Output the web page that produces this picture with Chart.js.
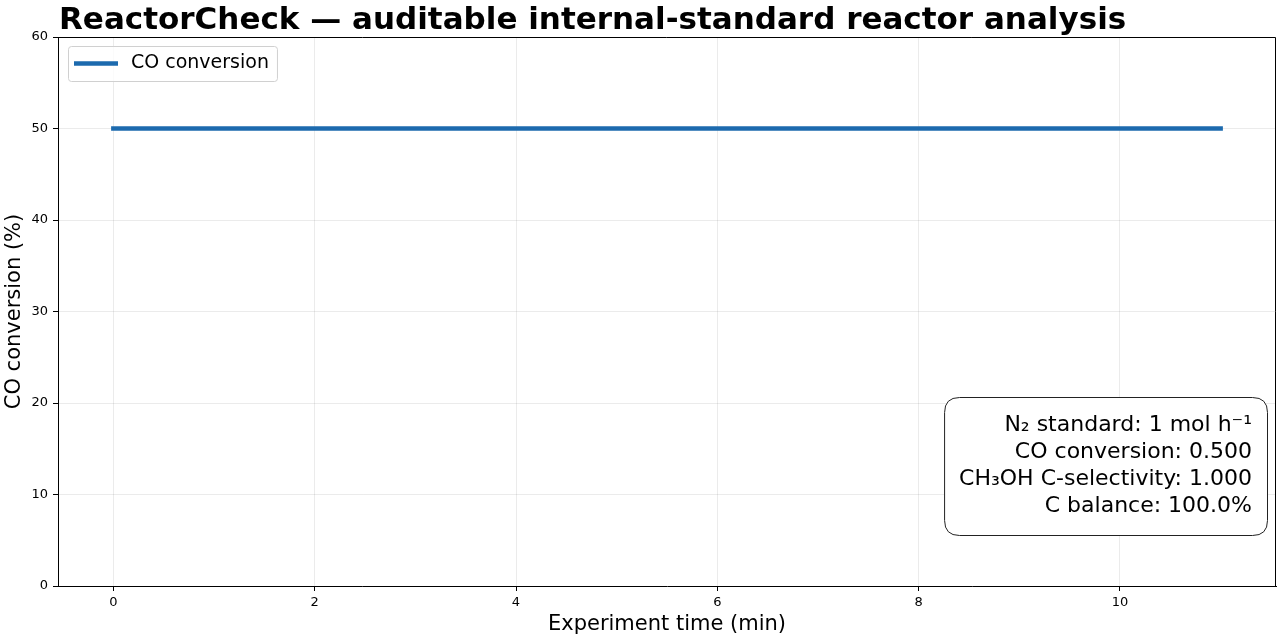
<!DOCTYPE html>
<html lang="en">
<head>
<meta charset="UTF-8">
<title>ReactorCheck</title>
<script src="https://cdn.jsdelivr.net/npm/chart.js"></script>
<style>
  body { margin: 0; background: #fff; }
  #wrap { width: 1280px; height: 640px; }
</style>
</head>
<body>
<div id="wrap"><canvas id="chart" width="1280" height="640"></canvas></div>
<script>
// data
const times = [0, 11];              // min
const conversion = [50, 50];        // %
const xTicks = [0, 2, 4, 6, 8, 10];
const yTicks = [0, 10, 20, 30, 40, 50, 60];
const seriesLabel = 'CO conversion';
const titleText = 'ReactorCheck \u2014 auditable internal-standard reactor analysis';
const noteLines = [
  'N\u2082 standard: 1 mol h\u207B\u00B9',
  'CO conversion: 0.500',
  'CH\u2083OH C-selectivity: 1.000',
  'C balance: 100.0%'
];

const FONT = "'DejaVu Sans', sans-serif";
const lineColor = '#1c6aae';

function roundRect(ctx, x, y, w, h, r) {
  ctx.beginPath();
  ctx.moveTo(x + r, y);
  ctx.lineTo(x + w - r, y);
  ctx.quadraticCurveTo(x + w, y, x + w, y + r);
  ctx.lineTo(x + w, y + h - r);
  ctx.quadraticCurveTo(x + w, y + h, x + w - r, y + h);
  ctx.lineTo(x + r, y + h);
  ctx.quadraticCurveTo(x, y + h, x, y + h - r);
  ctx.lineTo(x, y + r);
  ctx.quadraticCurveTo(x, y, x + r, y);
  ctx.closePath();
}

// title, frame, legend and note box
const extras = {
  id: 'extras',
  afterDraw(chart) {
    const ctx = chart.ctx;
    const a = chart.chartArea;
    ctx.save();

    // title
    ctx.fillStyle = '#000';
    ctx.font = 'bold 31px ' + FONT;
    ctx.textAlign = 'left';
    ctx.textBaseline = 'alphabetic';
    ctx.fillText(titleText, a.left + 1, 29);

    // top/right frame
    ctx.strokeStyle = '#000';
    ctx.lineWidth = 1;
    ctx.beginPath();
    ctx.moveTo(a.left, a.top + 0.5);
    ctx.lineTo(a.right - 0.5, a.top + 0.5);
    ctx.lineTo(a.right - 0.5, a.bottom);
    ctx.stroke();

    // legend
    const ds = chart.data.datasets[0];
    ctx.font = '19px ' + FONT;
    const lw = ctx.measureText(ds.label).width;
    const lx = a.left + 10, ly = a.top + 9;
    const lwBox = 63 + lw + 8, lh = 35;
    roundRect(ctx, lx + 0.5, ly + 0.5, lwBox, lh, 3);
    ctx.fillStyle = 'rgba(255,255,255,0.8)';
    ctx.fill();
    ctx.strokeStyle = '#d0d0d0';
    ctx.stroke();
    ctx.strokeStyle = ds.borderColor;
    ctx.lineWidth = 4.5;
    ctx.beginPath();
    ctx.moveTo(lx + 6, ly + 17.5);
    ctx.lineTo(lx + 50, ly + 17.5);
    ctx.stroke();
    ctx.fillStyle = '#000';
    ctx.textBaseline = 'middle';
    ctx.fillText(ds.label, lx + 63, ly + 17.5);

    // note box
    ctx.font = '22px ' + FONT;
    let maxW = 0;
    noteLines.forEach(t => { maxW = Math.max(maxW, ctx.measureText(t).width); });
    const pad = 15, lineH = 27;
    const bw = maxW + pad * 2, bh = noteLines.length * lineH + 30;
    const bx = a.right - 9 - bw, by = a.bottom - 51 - bh;
    roundRect(ctx, bx + 0.5, by + 0.5, bw, bh, 15);
    ctx.fillStyle = '#fff';
    ctx.fill();
    ctx.strokeStyle = '#222';
    ctx.lineWidth = 1;
    ctx.stroke();
    ctx.fillStyle = '#000';
    ctx.textAlign = 'right';
    ctx.textBaseline = 'middle';
    noteLines.forEach((t, i) => {
      ctx.fillText(t, bx + bw - pad, by + 15 + lineH / 2 + i * lineH);
    });

    ctx.restore();
  }
};

new Chart(document.getElementById('chart'), {
  type: 'line',
  data: {
    datasets: [{
      label: seriesLabel,
      data: times.map((t, i) => ({ x: t, y: conversion[i] })),
      borderColor: lineColor,
      backgroundColor: lineColor,
      borderWidth: 4.5,
      borderCapStyle: 'square',
      pointRadius: 0,
      tension: 0
    }]
  },
  options: {
    responsive: false,
    animation: false,
    devicePixelRatio: 1,
    layout: { padding: { top: 37, right: 4, left: 0, bottom: 0 } },
    plugins: {
      legend: { display: false },
      tooltip: { enabled: false },
      title: { display: false }
    },
    scales: {
      x: {
        type: 'linear',
        min: -0.55,
        max: 11.55,
        afterBuildTicks: s => { s.ticks = xTicks.map(v => ({ value: v })); },
        afterFit: s => { s.height = 54; },
        grid: { color: 'rgba(0,0,0,0.08)', tickColor: '#000', tickLength: 5, drawTicks: true },
        border: { display: true, color: '#000', width: 1 },
        ticks: { color: '#000', font: { family: FONT, size: 13 }, padding: 4, maxRotation: 0 },
        title: { display: true, text: 'Experiment time (min)', color: '#000', font: { family: FONT, size: 21 }, padding: { top: 2, bottom: 3 } }
      },
      y: {
        type: 'linear',
        min: 0,
        max: 60,
        afterBuildTicks: s => { s.ticks = yTicks.map(v => ({ value: v })); },
        afterFit: s => { s.width = 58; },
        grid: { color: 'rgba(0,0,0,0.08)', tickColor: '#000', tickLength: 5, drawTicks: true },
        border: { display: true, color: '#000', width: 1 },
        ticks: { color: '#000', font: { family: FONT, size: 13 }, padding: 5 },
        title: { display: true, text: 'CO conversion (%)', color: '#000', font: { family: FONT, size: 21 }, padding: { top: 2, bottom: 2 } }
      }
    }
  },
  plugins: [extras]
});
</script>
</body>
</html>
